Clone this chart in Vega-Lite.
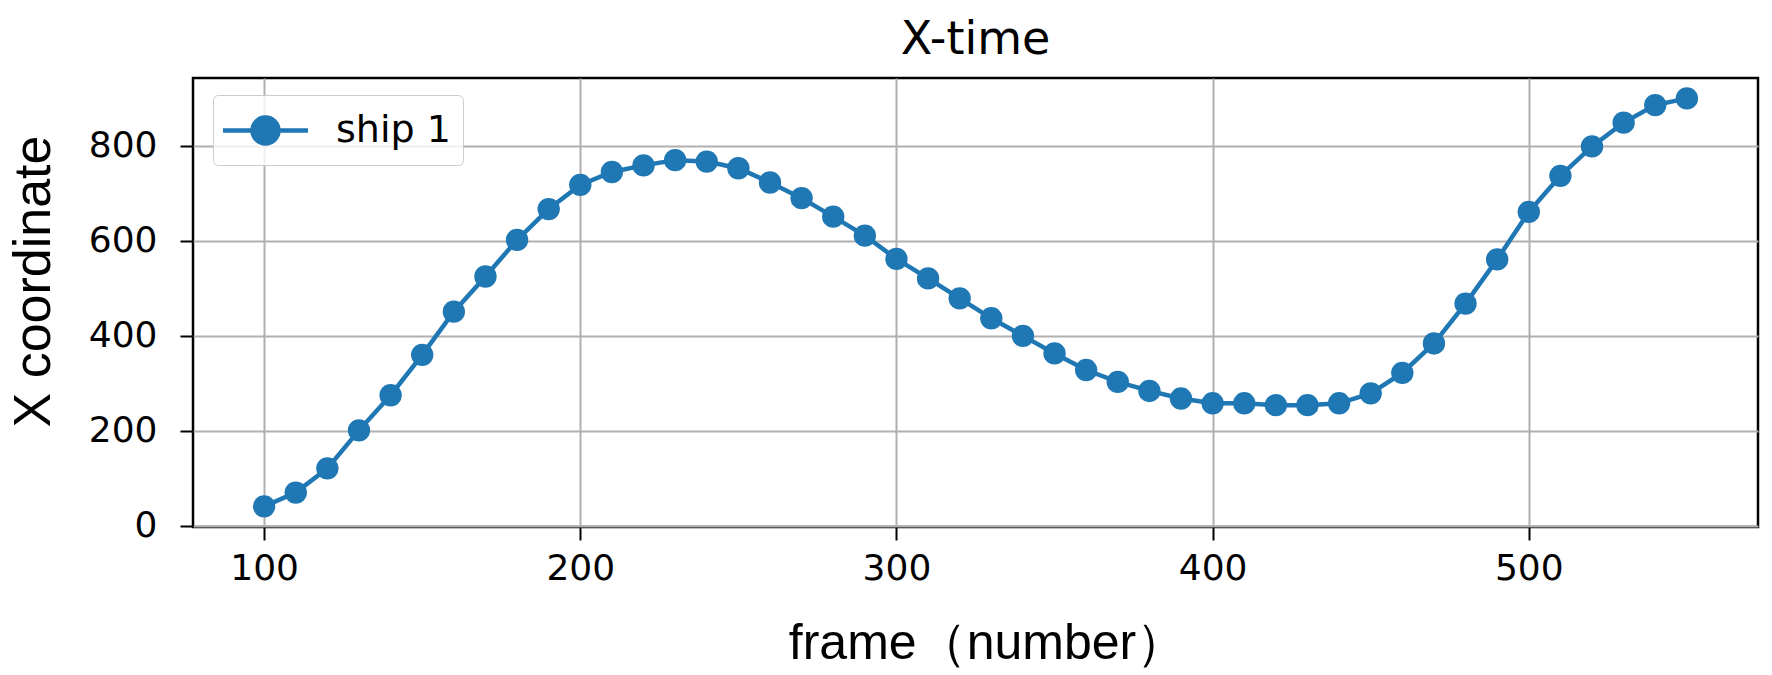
{
  "$schema": "https://vega.github.io/schema/vega-lite/v6.json",
  "width": 1565,
  "height": 449,
  "autosize": {"type": "none"},
  "padding": {"left": 193, "top": 78, "right": 14, "bottom": 148},
  "background": "white",
  "title": {
    "text": "X-time",
    "font": "DejaVu Sans",
    "fontSize": 46,
    "fontWeight": "normal",
    "color": "black",
    "baseline": "alphabetic",
    "offset": 25,
    "dy": 47
  },
  "data": {
    "values": [
      {"frame": 100, "x": 41, "series": "ship 1"},
      {"frame": 110, "x": 70, "series": "ship 1"},
      {"frame": 120, "x": 121, "series": "ship 1"},
      {"frame": 130, "x": 201, "series": "ship 1"},
      {"frame": 140, "x": 275, "series": "ship 1"},
      {"frame": 150, "x": 360, "series": "ship 1"},
      {"frame": 160, "x": 451, "series": "ship 1"},
      {"frame": 170, "x": 525, "series": "ship 1"},
      {"frame": 180, "x": 602, "series": "ship 1"},
      {"frame": 190, "x": 667, "series": "ship 1"},
      {"frame": 200, "x": 718, "series": "ship 1"},
      {"frame": 210, "x": 745, "series": "ship 1"},
      {"frame": 220, "x": 759, "series": "ship 1"},
      {"frame": 230, "x": 770, "series": "ship 1"},
      {"frame": 240, "x": 767, "series": "ship 1"},
      {"frame": 250, "x": 753, "series": "ship 1"},
      {"frame": 260, "x": 723, "series": "ship 1"},
      {"frame": 270, "x": 690, "series": "ship 1"},
      {"frame": 280, "x": 651, "series": "ship 1"},
      {"frame": 290, "x": 611, "series": "ship 1"},
      {"frame": 300, "x": 562, "series": "ship 1"},
      {"frame": 310, "x": 521, "series": "ship 1"},
      {"frame": 320, "x": 479, "series": "ship 1"},
      {"frame": 330, "x": 437, "series": "ship 1"},
      {"frame": 340, "x": 400, "series": "ship 1"},
      {"frame": 350, "x": 363, "series": "ship 1"},
      {"frame": 360, "x": 328, "series": "ship 1"},
      {"frame": 370, "x": 303, "series": "ship 1"},
      {"frame": 380, "x": 284, "series": "ship 1"},
      {"frame": 390, "x": 268, "series": "ship 1"},
      {"frame": 400, "x": 258, "series": "ship 1"},
      {"frame": 410, "x": 258, "series": "ship 1"},
      {"frame": 420, "x": 254, "series": "ship 1"},
      {"frame": 430, "x": 254, "series": "ship 1"},
      {"frame": 440, "x": 258, "series": "ship 1"},
      {"frame": 450, "x": 279, "series": "ship 1"},
      {"frame": 460, "x": 322, "series": "ship 1"},
      {"frame": 470, "x": 384, "series": "ship 1"},
      {"frame": 480, "x": 468, "series": "ship 1"},
      {"frame": 490, "x": 561, "series": "ship 1"},
      {"frame": 500, "x": 661, "series": "ship 1"},
      {"frame": 510, "x": 737, "series": "ship 1"},
      {"frame": 520, "x": 799, "series": "ship 1"},
      {"frame": 530, "x": 849, "series": "ship 1"},
      {"frame": 540, "x": 886, "series": "ship 1"},
      {"frame": 550, "x": 900, "series": "ship 1"}
    ]
  },
  "encoding": {
    "x": {
      "field": "frame",
      "type": "quantitative",
      "scale": {"domain": [77.5, 572.5], "nice": false, "zero": false},
      "axis": {
        "title": "frame（number）",
        "values": [100, 200, 300, 400, 500],
        "grid": true,
        "gridColor": "#b0b0b0",
        "gridWidth": 2,
        "domain": false,
        "tickSize": 13,
        "tickWidth": 2,
        "tickColor": "black",
        "labelFont": "DejaVu Sans",
        "labelFontSize": 36,
        "labelColor": "black",
        "labelPadding": 11,
        "titleFont": "Liberation Sans",
        "titleFontSize": 50,
        "titleFontWeight": "normal",
        "titleColor": "black",
        "titleBaseline": "alphabetic",
        "titleX": 794,
        "titleY": 131
      }
    },
    "y": {
      "field": "x",
      "type": "quantitative",
      "scale": {"domain": [-2.5, 943], "nice": false, "zero": false},
      "axis": {
        "title": "X coordinate",
        "values": [0, 200, 400, 600, 800],
        "grid": true,
        "gridColor": "#b0b0b0",
        "gridWidth": 2,
        "domain": false,
        "tickSize": 13,
        "tickWidth": 2,
        "tickColor": "black",
        "labelFont": "DejaVu Sans",
        "labelFontSize": 36,
        "labelColor": "black",
        "labelPadding": 23,
        "titleFont": "Liberation Sans",
        "titleFontSize": 52,
        "titleFontWeight": "normal",
        "titleColor": "black",
        "titleBaseline": "alphabetic",
        "titleX": -144,
        "titleY": 203
      }
    },
    "color": {
      "field": "series",
      "type": "nominal",
      "scale": {"range": ["#1f77b4"]},
      "legend": {
        "orient": "none",
        "legendX": 20,
        "legendY": 17,
        "title": null,
        "symbolType": "M-1.2,0L2.8,0M0.19,0A0.61,0.61,0,1,1,1.41,0A0.61,0.61,0,1,1,0.19,0Z",
        "symbolSize": 1806,
        "symbolStrokeWidth": 4.5,
        "symbolFillColor": "#1f77b4",
        "symbolStrokeColor": "#1f77b4",
        "symbolOpacity": 1,
        "labelFont": "DejaVu Sans",
        "labelFontSize": 38,
        "labelColor": "black",
        "labelOffset": 64,
        "padding": 12,
        "strokeColor": "#cccccc",
        "fillColor": "rgba(255,255,255,0.8)",
        "cornerRadius": 5
      }
    }
  },
  "layer": [
    {"mark": {"type": "line", "strokeWidth": 4.5}},
    {"mark": {"type": "circle", "size": 500, "opacity": 1}}
  ],
  "config": {
    "view": {"stroke": "black", "strokeWidth": 2.5}
  }
}
